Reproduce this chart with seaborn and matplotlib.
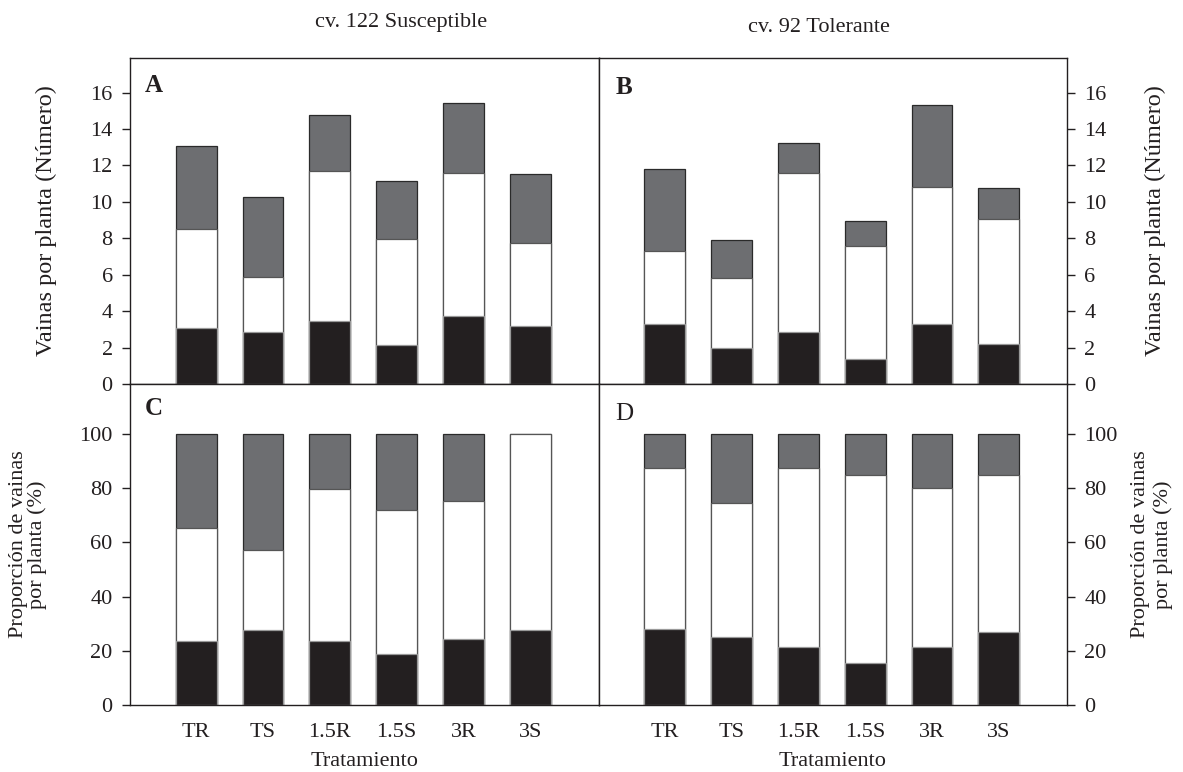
import matplotlib
matplotlib.use("Agg")
import matplotlib.pyplot as plt
import seaborn as sns
import pandas as pd

# ---------------- data ----------------
treatments = ["TR", "TS", "1.5R", "1.5S", "3R", "3S"]

# Panel A: cv. 122 Susceptible, pods per plant (segment heights)
a_black = [3.07, 2.85, 3.45, 2.13, 3.73, 3.21]
a_white = [5.45, 3.03, 8.27, 5.84, 7.88, 4.54]
a_gray = [4.54, 4.39, 3.05, 3.16, 3.82, 3.80]

# Panel B: cv. 92 Tolerante, pods per plant
b_black = [3.27, 1.95, 2.83, 1.40, 3.27, 2.17]
b_white = [4.02, 3.85, 8.76, 6.18, 7.55, 6.88]
b_gray = [4.54, 2.10, 1.67, 1.36, 4.51, 1.73]

# Panel C: cv. 122 Susceptible, proportion (%)
c_black = [23.6, 27.7, 23.6, 18.8, 24.4, 27.7]
c_white = [41.8, 29.5, 56.2, 53.2, 51.0, 72.3]
c_gray = [34.6, 42.8, 20.2, 28.0, 24.6, 0.0]

# Panel D: cv. 92 Tolerante, proportion (%)
d_black = [28.0, 25.1, 21.4, 15.5, 21.4, 26.9]
d_white = [59.5, 49.4, 66.1, 69.4, 58.7, 58.0]
d_gray = [12.5, 25.5, 12.5, 15.1, 19.9, 15.1]

titles = ["cv. 122 Susceptible", "cv. 92 Tolerante"]
panel_letters = ["A", "B", "C", "D"]
ylabel_top = "Vainas por planta (Número)"
ylabel_bottom = "Proporción de vainas\npor planta (%)"
xlabel = "Tratamiento"

col_black = "#231f20"
col_white = "#ffffff"
col_gray = "#6d6e71"
ink = "#231f20"

sns.set_theme(style="white")
plt.rcParams["font.family"] = ["Liberation Serif", "DejaVu Serif"]
plt.rcParams["axes.edgecolor"] = ink
plt.rcParams["axes.linewidth"] = 1.0


def make_df(black, white, gray):
    rows = []
    for t, bk, wh, gr in zip(treatments, black, white, gray):
        rows.append({"trat": t, "seg": "gray", "cum": bk + wh + gr})
        rows.append({"trat": t, "seg": "white", "cum": bk + wh})
        rows.append({"trat": t, "seg": "black", "cum": bk})
    return pd.DataFrame(rows)


fig = plt.figure(figsize=(11.83, 7.72), dpi=100)
gs = fig.add_gridspec(2, 2, left=130 / 1183, right=1067 / 1183,
                      top=1 - 58 / 772, bottom=1 - 705 / 772,
                      hspace=0, wspace=0, height_ratios=[326, 321])
axes = [[fig.add_subplot(gs[i, j]) for j in range(2)] for i in range(2)]

data = [[(a_black, a_white, a_gray), (b_black, b_white, b_gray)],
        [(c_black, c_white, c_gray), (d_black, d_white, d_gray)]]

letter_pos = {"A": (0.031, 0.915), "B": (0.036, 0.910),
              "C": (0.031, 0.925), "D": (0.036, 0.905)}

for i in range(2):
    for j in range(2):
        ax = axes[i][j]
        df = make_df(*data[i][j])
        for seg, col, ec in [("gray", col_gray, "#2a2a2a"),
                             ("white", col_white, "#555555"),
                             ("black", col_black, "#999999")]:
            sub = df[df["seg"] == seg]
            sns.barplot(data=sub, x="trat", y="cum", order=treatments,
                        color=col, saturation=1, width=0.61, errorbar=None,
                        edgecolor=ec, linewidth=0.9, ax=ax)
        ax.set_xlim(-0.99, 6.02)
        if i == 0:
            ax.set_ylim(0, 17.9)
            ax.set_yticks(range(0, 17, 2))
        else:
            ax.set_ylim(0, 118.5)
            ax.set_yticks(range(0, 101, 20))
        for s in ax.spines.values():
            s.set_visible(True)
            s.set_color(ink)
            s.set_linewidth(1.0)
        ax.set_xlabel("")
        ax.set_ylabel("")
        ax.tick_params(axis="y", direction="out", length=6, width=1,
                       color=ink, labelsize=16, labelcolor=ink, pad=6.5)
        ax.tick_params(axis="x", direction="out", length=7, width=1,
                       color=ink, labelsize=16, labelcolor=ink, pad=6)
        if j == 0:
            ax.yaxis.tick_left()
        else:
            ax.yaxis.tick_right()
            ax.yaxis.set_label_position("right")
        if i == 0:
            ax.tick_params(axis="x", bottom=False, labelbottom=False)
        else:
            ax.set_xticks(range(len(treatments)))
            ax.set_xticklabels(treatments)
            ax.set_xlabel(xlabel, fontsize=16, color=ink, labelpad=7)

        letter = panel_letters[i * 2 + j]
        lx, ly = letter_pos[letter]
        ax.text(lx, ly, letter, transform=ax.transAxes,
                fontsize=18, fontweight="bold" if letter != "D" else "normal",
                color=ink, va="center", ha="left")

# y labels, centred at measured positions
lab_specs = [
    (axes[0][0], ylabel_top, 17.5, (46 - 130) / 468, 1.0),
    (axes[0][1], ylabel_top, 17.5, (1156 - 598) / 469, 1.0),
    (axes[1][0], ylabel_bottom, 16, (28 - 130) / 468, 1.0),
    (axes[1][1], ylabel_bottom, 16, (1152 - 598) / 469, 1.2),
]
for ax, txt, fs, xc, ls in lab_specs:
    ax.set_ylabel(txt, fontsize=fs, color=ink, rotation=90,
                  linespacing=ls)
    ax.yaxis.set_label_coords(xc, 0.5)
    ax.yaxis.label.set_va("center")
    ax.yaxis.label.set_ha("center")

fig.text(401 / 1183, 1 - 22 / 772, titles[0], ha="center", va="center",
         fontsize=16, color=ink)
fig.text(819 / 1183, 1 - 28 / 772, titles[1], ha="center", va="center",
         fontsize=16, color=ink)

fig.savefig("out.png", dpi=100, facecolor="white")
